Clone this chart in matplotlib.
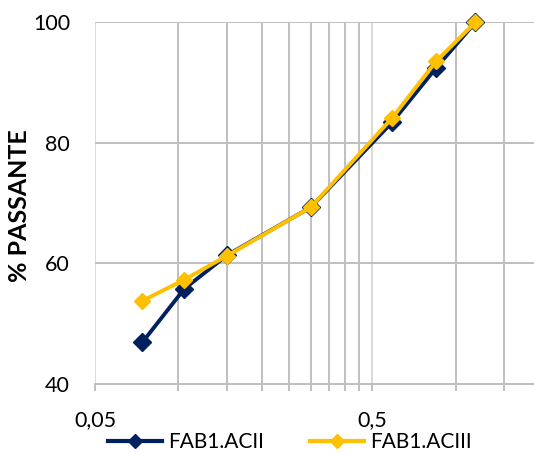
import matplotlib.pyplot as plt
from matplotlib.lines import Line2D
from matplotlib.ticker import FixedLocator, FixedFormatter, NullFormatter

# sieve openings (mm) and percent passing
sieves = [0.074, 0.105, 0.15, 0.3, 0.59, 0.85, 1.18]
acii = [46.9, 55.8, 61.4, 69.3, 83.4, 92.4, 100]
aciii = [53.8, 57.3, 61.3, 69.3, 84.1, 93.5, 100]

x_major = [0.05, 0.5]
x_major_labels = ['0,05', '0,5']
x_minor = [0.1, 0.15, 0.2, 0.25, 0.3, 0.35, 0.4, 0.45, 1.0, 1.5]
y_ticks = [40, 60, 80, 100]

plt.rcParams['font.family'] = ['Lato', 'DejaVu Sans']

fig = plt.figure(figsize=(5.34, 4.54), dpi=100)
ax = fig.add_axes([0.178, 0.154, 0.822, 0.797])

navy = '#002060'
gold = '#FFC000'
# clip_on off so the 100 % diamonds are not cut by the top edge
ax.plot(sieves, acii, color=navy, lw=2.8, marker='D', ms=9.5,
        mec=navy, label='FAB1.ACII', zorder=3, clip_on=False)
ax.plot(sieves, aciii, color=gold, lw=2.8, marker='D', ms=8,
        mec=gold, label='FAB1.ACIII', zorder=4, clip_on=False)

ax.set_xscale('log')
ax.set_xlim(0.05, 1.92)
ax.set_ylim(40, 100)

ax.xaxis.set_major_locator(FixedLocator(x_major))
ax.xaxis.set_major_formatter(FixedFormatter(x_major_labels))
ax.xaxis.set_minor_locator(FixedLocator(x_minor))
ax.xaxis.set_minor_formatter(NullFormatter())
ax.set_yticks(y_ticks)

ax.grid(axis='x', which='major', color='#d9d9d9', lw=1.4)
ax.grid(axis='x', which='minor', color='#bfbfbf', lw=1.4)
ax.grid(axis='y', which='major', color='#bfbfbf', lw=1.4)
ax.set_axisbelow(True)

for side in ['top', 'right', 'left']:
    ax.spines[side].set_visible(False)
ax.spines['bottom'].set_color('#bfbfbf')
ax.spines['bottom'].set_linewidth(1.4)

ax.tick_params(axis='x', which='both', length=5, width=1.4, color='#bfbfbf',
               labelsize=15.5, pad=14)
ax.tick_params(axis='y', length=0, labelsize=15.5, pad=18)
ax.set_ylabel('% PASSANTE', fontsize=18, fontweight='bold')
ax.yaxis.set_label_coords(-0.147, 0.494)

# legend markers are drawn smaller than on the curves
h1 = Line2D([], [], color=navy, lw=3, marker='D', ms=7, mec=navy)
h2 = Line2D([], [], color=gold, lw=3, marker='D', ms=7, mec=gold)
fig.legend([h1, h2], ['FAB1.ACII', 'FAB1.ACIII'], loc='center left',
           bbox_to_anchor=(0.2022, 0.0264), ncol=2, frameon=False,
           fontsize=15, handlelength=2.6, columnspacing=2.2,
           handletextpad=0.3, borderpad=0, borderaxespad=0)

fig.savefig('out.png', dpi=100)
